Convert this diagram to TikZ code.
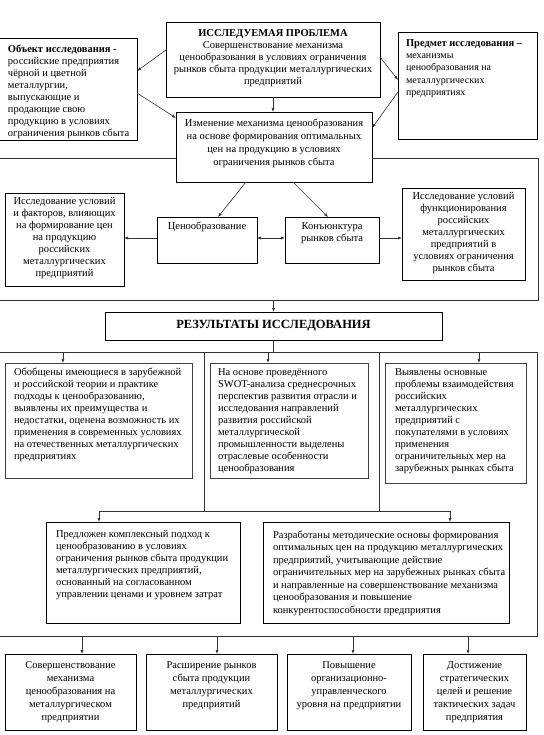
\documentclass[tikz,border=0pt]{standalone}
\usepackage{fontspec}
\setmainfont{Liberation Serif}
\usetikzlibrary{arrows.meta,calc}
\newcommand{\CT}[4]{\parbox[c][#2pt][t]{#1pt}{\centering\vspace*{#3pt}\begin{tabular}[t]{@{}c@{}}#4\end{tabular}\par}}
\newcommand{\LT}[4]{\parbox[c][#2pt][t]{#1pt}{\raggedright\vspace*{#3pt}\begin{tabular}[t]{@{}l@{}}#4\end{tabular}\par}}
\begin{document}
\begin{tikzpicture}[x=1pt,y=-1pt,
  box/.style={draw=black, line width=0.7pt, inner ysep=0pt, outer sep=0pt, anchor=north west, font=\fontsize{10.5}{12}\selectfont},
  gbox/.style={box, draw=black!75, line width=1pt},
  ln/.style={line width=0.6pt, draw=black!80},
  arr/.style={ln, -{Latex[length=4pt,width=3pt]}},
  darr/.style={ln, {Latex[length=4pt,width=3pt]}-{Latex[length=4pt,width=3pt]}}]
\fill[white] (0,0) rectangle (543,735);
\useasboundingbox (0,0) rectangle (543,735);

% top row
\node[box, inner xsep=4pt] (prob) at (166,22) {\CT{206}{75}{6.5}{\textbf{ИССЛЕДУЕМАЯ ПРОБЛЕМА}\\Совершенствование механизма\\ценообразования в условиях ограничения\\рынков сбыта продукции металлургических\\предприятий}};
\node[box, inner xsep=9pt] (obj) at (-1,38) {\LT{120}{102}{6.5}{\textbf{Объект исследования -}\\российские предприятия\\чёрной и цветной\\металлургии,\\выпускающие и\\продающие свою\\продукцию в условиях\\ограничения рынков сбыта}};
\node[box, inner xsep=8pt, font=\fontsize{10}{12.3}\selectfont] (pred) at (398,32) {\LT{123}{107}{5.5}{{\fontsize{10.5}{12}\selectfont\bfseries Предмет исследования –}\\механизмы\\ценообразования на\\металлургических\\предприятиях}};
\node[box, inner xsep=4pt, font=\fontsize{10.5}{13}\selectfont] (change) at (176,112) {\CT{188}{70}{5.5}{Изменение механизма ценообразования\\на основе формирования оптимальных\\цен на продукцию в условиях\\ограничения рынков сбыта}};

% middle row
\node[box, inner xsep=3pt] (lm) at (5,193) {\CT{113}{93}{3.5}{Исследование условий\\и факторов, влияющих\\на формирование цен\\на продукцию\\российских\\металлургических\\предприятий}};
\node[box, inner xsep=3pt] (cen) at (157,217) {\CT{94}{46}{4.5}{Ценообразование}};
\node[box, inner xsep=3pt] (kon) at (285,217) {\CT{88}{46}{4.5}{Конъюнктура\\рынков сбыта}};
\node[box, inner xsep=3pt] (rm) at (402,188) {\CT{117}{92}{3.5}{Исследование условий\\функционирования\\российских\\металлургических\\предприятий в\\условиях ограничения\\рынков сбыта}};

% results
\node[box, minimum width=337pt, minimum height=28pt, inner sep=0pt, font=\fontsize{12.5}{14}\selectfont\bfseries] (res) at (105,312) {РЕЗУЛЬТАТЫ ИССЛЕДОВАНИЯ};

\node[gbox, inner xsep=9pt] (b1) at (5,363) {\LT{169}{115}{4.5}{Обобщены имеющиеся в зарубежной\\и российской теории и практике\\подходы к ценообразованию,\\выявлены их преимущества и\\недостатки, оценена возможность их\\применения в современных условиях\\на отечественных металлургических\\предприятиях}};
\node[gbox, inner xsep=8pt] (b2) at (210,363) {\LT{142}{115}{4.5}{На основе проведённого\\SWOT-анализа среднесрочных\\перспектив развития отрасли и\\исследования направлений\\развития российской\\металлургической\\промышленности выделены\\отраслевые особенности\\ценообразования}};
\node[gbox, inner xsep=10pt] (b3) at (385,363) {\LT{121}{120}{4.5}{Выявлены основные\\проблемы взаимодействия\\российских\\металлургических\\предприятий с\\покупателями в условиях\\применения\\ограничительных мер на\\зарубежных рынках сбыта}};

\node[box, inner xsep=10pt] (b4) at (46,522) {\LT{174}{101}{7.5}{Предложен комплексный подход к\\ценообразованию в условиях\\ограничения рынков сбыта продукции\\металлургических предприятий,\\основанный на согласованном\\управлении ценами и уровнем затрат}};
\node[box, inner xsep=10pt, font=\fontsize{10.5}{12.5}\selectfont] (b5) at (263,522) {\LT{226}{101}{7.5}{Разработаны методические основы формирования\\оптимальных цен на продукцию металлургических\\предприятий, учитывающие действие\\ограничительных мер на зарубежных рынках сбыта\\и направленные на совершенствование механизма\\ценообразования и повышение\\конкурентоспособности предприятия}};

% bottom row
\node[box, inner xsep=3pt, font=\fontsize{10.5}{13}\selectfont] (ba) at (5,654) {\CT{125}{76}{5.5}{Совершенствование\\механизма\\ценообразования на\\металлургическом\\предприятии}};
\node[box, inner xsep=3pt, font=\fontsize{10.5}{13}\selectfont] (bb) at (146,654) {\CT{125}{76}{5.5}{Расширение рынков\\сбыта продукции\\металлургических\\предприятий}};
\node[box, inner xsep=3pt, font=\fontsize{10.5}{13}\selectfont] (bc) at (287,654) {\CT{118}{76}{5.5}{Повышение\\организационно-\\управленческого\\уровня на предприятии}};
\node[box, inner xsep=3pt, font=\fontsize{10.5}{13}\selectfont] (bd) at (423,654) {\CT{97}{76}{5.5}{Достижение\\стратегических\\целей и решение\\тактических задач\\предприятия}};

% connectors top
\draw[arr] ($(prob.north west)+(0,28)$) -- ($(obj.north east)+(0,33)$);
\draw[arr] ($(obj.north east)+(0,55)$) -- ($(change.north west)+(0,6)$);
\draw[arr] ($(prob.north east)+(0,35)$) -- ($(pred.north west)+(0,48)$);
\draw[arr] ($(pred.north west)+(0,60)$) -- ($(change.north east)+(0,16)$);
\draw[arr] (prob.south) -- (prob.south |- change.north);
\draw[arr] ($(change.south west)+(70,0)$) -- ($(cen.north west)+(61,0)$);
\draw[arr] ($(change.south west)+(117,0)$) -- ($(kon.north west)+(43,0)$);
\coordinate (cy) at ($(cen.north west)+(0,21)$);
\coordinate (ky) at ($(kon.north east)+(0,21)$);
\draw[darr] (cy -| cen.east) -- (cy -| kon.west);
\draw[arr] (cy) -- (cy -| lm.east);
\draw[arr] (ky) -- (ky -| rm.west);

% frame 1
\coordinate (f1l) at (-3,158);
\coordinate (f1r) at (538,158);
\coordinate (f1br) at (538,300);
\coordinate (f1bl) at (-3,300);
\draw[ln] (f1l) -- (f1l -| change.west);
\draw[ln] (f1r -| change.east) -- (f1r) -- (f1br) -- (f1bl);
\draw[arr] (res.north |- f1br) -- (res.north);

% frame 2
\coordinate (f2l) at (-3,352);
\coordinate (f2r) at (537,352);
\coordinate (f2br) at (537,636);
\coordinate (f2bl) at (-3,636);
\draw[ln] (res.south) -- (res.south |- f2l);
\draw[ln] (f2l) -- (f2r) -- (f2br) -- (f2bl);
\coordinate (a1) at (63,352);
\coordinate (a2) at (268,352);
\coordinate (a3) at (479,352);
\draw[arr] (a1) -- (a1 |- b1.north);
\draw[arr] (a2) -- (a2 |- b2.north);
\draw[arr] (a3) -- (a3 |- b3.north);
\coordinate (v1) at (204,352);
\coordinate (v2) at (379,352);
\coordinate (h1) at (99,511);
\coordinate (h2) at (450,511);
\draw[ln] (v1) -- (v1 |- h1);
\draw[ln] (v2) -- (v2 |- h1);
\draw[arr] (v1 |- h1) -- (h1) -- (h1 |- b4.north);
\draw[arr] (v1 |- h1) -- (h2) -- (h2 |- b5.north);
\coordinate (d1) at (82,636);
\coordinate (d2) at (217,636);
\coordinate (d3) at (353,636);
\coordinate (d4) at (468,636);
\draw[arr] (d1) -- (d1 |- ba.north);
\draw[arr] (d2) -- (d2 |- bb.north);
\draw[arr] (d3) -- (d3 |- bc.north);
\draw[arr] (d4) -- (d4 |- bd.north);
\end{tikzpicture}
\end{document}
